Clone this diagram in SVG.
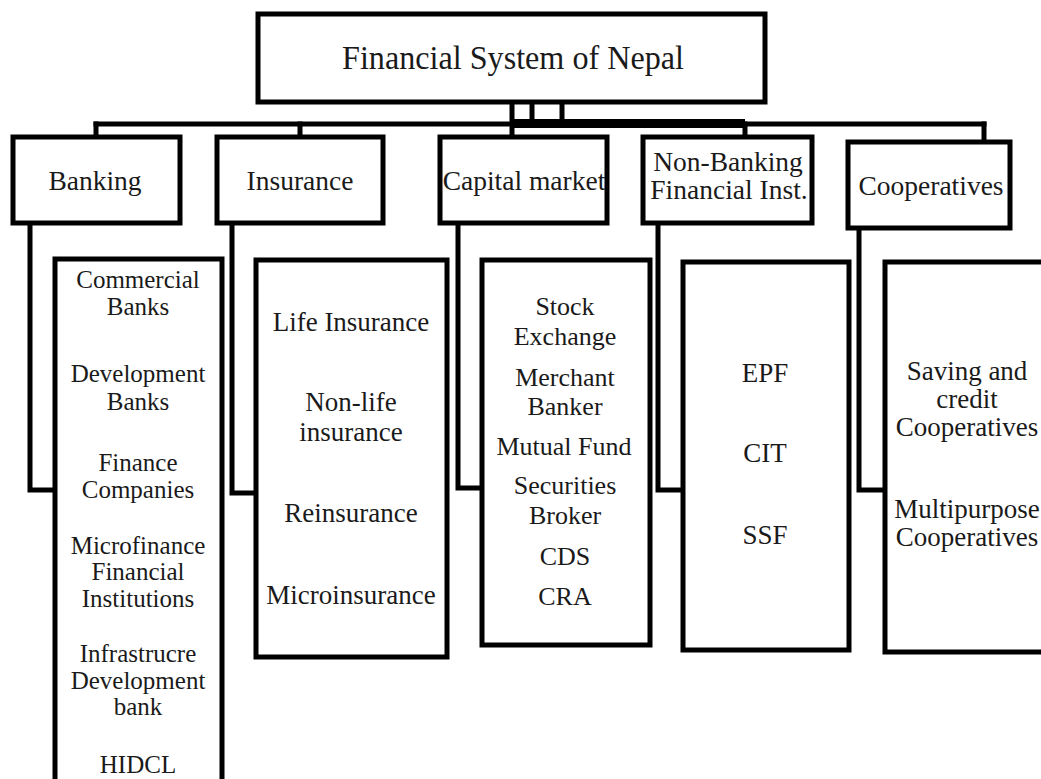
<svg xmlns="http://www.w3.org/2000/svg" width="1041" height="779" viewBox="0 0 1041 779">
<style>
.box{fill:#fff;stroke:#000;stroke-width:5}
.ln{fill:none;stroke:#000;stroke-width:5;stroke-linecap:square}
text{font-family:"Liberation Serif","Times New Roman",serif;fill:#1a1a1a;text-anchor:middle}
.h{font-size:27.5px}
.l{font-size:25px}
.m{font-size:26px}
.k{font-size:27px}
</style>
<rect width="1041" height="779" fill="#fff"/>
<g id="connectors">
<line class="ln" x1="512" y1="102" x2="512" y2="137" stroke-width="6"/>
<line class="ln" x1="532" y1="102" x2="532" y2="124" stroke-width="4"/>
<line class="ln" x1="562" y1="102" x2="562" y2="124" stroke-width="4"/>
<line class="ln" x1="96" y1="124" x2="984" y2="124"/>
<rect x="512" y="119" width="233" height="9" fill="#000"/>
<line class="ln" x1="96" y1="124" x2="96" y2="137"/>
<line class="ln" x1="300" y1="124" x2="300" y2="137"/>
<line class="ln" x1="745" y1="124" x2="745" y2="137"/>
<line class="ln" x1="984" y1="124" x2="984" y2="142"/>
<polyline class="ln" points="30,223 30,490 55,490"/>
<polyline class="ln" points="232,223 232,493 256,493"/>
<polyline class="ln" points="458,223 458,488 482,488"/>
<polyline class="ln" points="658,223 658,490 683,490"/>
<polyline class="ln" points="859,228 859,490 885,490"/>
</g>
<g id="root">
<rect class="box" x="258" y="14" width="507" height="88"/>
<text x="513" y="69" font-size="34" textLength="342" lengthAdjust="spacingAndGlyphs">Financial System of Nepal</text>
</g>
<g id="banking">
<rect class="box" x="13" y="137" width="167" height="86"/>
<text class="h" x="95" y="190">Banking</text>
</g>
<g id="insurance">
<rect class="box" x="217" y="137" width="166" height="86"/>
<text class="h" x="300" y="190">Insurance</text>
</g>
<g id="capital">
<rect class="box" x="440" y="137" width="167" height="86"/>
<text class="h" x="524" y="190">Capital market</text>
</g>
<g id="nbfi">
<rect class="box" x="643" y="137" width="169" height="86"/>
<text class="h" x="728" y="171">Non-Banking</text>
<text class="h" x="729" y="199">Financial Inst.</text>
</g>
<g id="cooperatives">
<rect class="box" x="848" y="142" width="162" height="86"/>
<text class="h" x="931" y="195">Cooperatives</text>
</g>
<g id="banking-list">
<rect class="box" x="55" y="259" width="167" height="540"/>
<text class="l" x="138" y="288">Commercial</text>
<text class="l" x="138" y="315">Banks</text>
<text class="l" x="138" y="382">Development</text>
<text class="l" x="138" y="410">Banks</text>
<text class="l" x="138" y="471">Finance</text>
<text class="l" x="138" y="498">Companies</text>
<text class="l" x="138" y="554">Microfinance</text>
<text class="l" x="138" y="580">Financial</text>
<text class="l" x="138" y="607">Institutions</text>
<text class="l" x="138" y="662">Infrastrucre</text>
<text class="l" x="138" y="689">Development</text>
<text class="l" x="138" y="715">bank</text>
<text class="l" x="138" y="773">HIDCL</text>
</g>
<g id="insurance-list">
<rect class="box" x="256" y="260" width="191" height="397"/>
<text class="k" x="351" y="331">Life Insurance</text>
<text class="k" x="351" y="411">Non-life</text>
<text class="k" x="351" y="441">insurance</text>
<text class="k" x="351" y="522">Reinsurance</text>
<text class="k" x="351" y="604">Microinsurance</text>
</g>
<g id="capital-list">
<rect class="box" x="482" y="260" width="168" height="385"/>
<text class="m" x="565" y="315">Stock</text>
<text class="m" x="565" y="345">Exchange</text>
<text class="m" x="565" y="386">Merchant</text>
<text class="m" x="565" y="415">Banker</text>
<text class="m" x="564" y="455">Mutual Fund</text>
<text class="m" x="565" y="494">Securities</text>
<text class="m" x="565" y="524">Broker</text>
<text class="m" x="565" y="565">CDS</text>
<text class="m" x="565" y="605">CRA</text>
</g>
<g id="nbfi-list">
<rect class="box" x="683" y="262" width="166" height="388"/>
<text class="k" x="765" y="382">EPF</text>
<text class="k" x="765" y="462">CIT</text>
<text class="k" x="765" y="544">SSF</text>
</g>
<g id="cooperatives-list">
<rect class="box" x="885" y="262" width="170" height="390"/>
<text class="k" x="967" y="380">Saving and</text>
<text class="k" x="967" y="408">credit</text>
<text class="k" x="967" y="436">Cooperatives</text>
<text class="k" x="967" y="518">Multipurpose</text>
<text class="k" x="967" y="546">Cooperatives</text>
</g>
</svg>
